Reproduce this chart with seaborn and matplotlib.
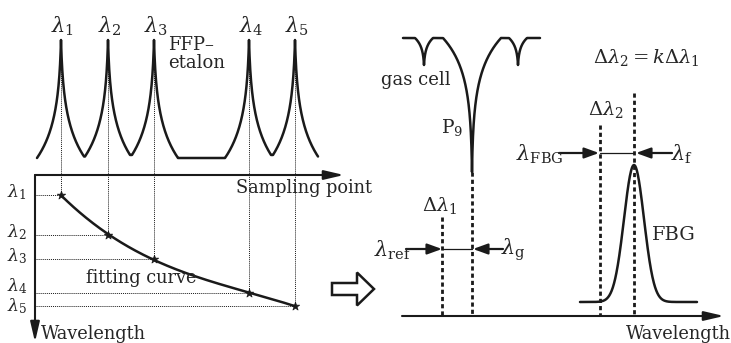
import numpy as np
import seaborn as sns
import matplotlib.pyplot as plt
from matplotlib.patches import FancyArrow

# FFP etalon peaks (left panel, x in px) and fitted wavelength positions
ffp_peaks = [61, 108, 154, 249, 295]
fit_y = [195, 235, 259, 293, 306]
peak_names = ['1', '2', '3', '4', '5']

# gas cell absorption lines (right panel)
gas_lines = [424, 472, 518]
gas_depths = [27, 134, 27]
gas_widths = [9, 29, 9]

# FBG reflection peak
fbg_center = 634
fbg_sigma = 10

# reference / measured wavelengths
lam_ref, lam_g = 442, 472
lam_fbg, lam_f = 600, 634


def cusp(x, centers, depths, widths, g):
    out = np.zeros_like(x)
    for c, d, w in zip(centers, depths, widths):
        f = 1 - np.log1p(np.abs(x - c) / g) / np.log1p(w / g)
        out += d * np.clip(f, 0, None)
    return out


def arrow(ax, start, end, lw=1.6, hl=0.5, hw=0.18, ms=20):
    ax.annotate('', xy=end, xytext=start,
                arrowprops=dict(arrowstyle=f'-|>,head_length={hl},head_width={hw}',
                                lw=lw, color='k', shrinkA=0, shrinkB=0,
                                mutation_scale=ms))


sns.set_theme(style='white')
plt.rcParams['font.family'] = ['DejaVu Serif']
plt.rcParams['mathtext.fontset'] = 'dejavuserif'

fig = plt.figure(figsize=(7.31, 3.43), dpi=100)
ax = fig.add_axes([0, 0, 1, 1])

# ---- left panel: etalon spectrum ----
xs = np.union1d(np.linspace(37, 318, 2000), ffp_peaks)
ys = 158 - cusp(xs, ffp_peaks, [118] * 5, [24] * 5, 1.0)
sns.lineplot(x=xs, y=ys, ax=ax, color='k', lw=1.8, estimator=None, sort=False)

# fitting curve through the sampled points
coef = np.polyfit(ffp_peaks, fit_y, 3)
xf = np.linspace(ffp_peaks[0], ffp_peaks[-1], 300)
sns.lineplot(x=xf, y=np.polyval(coef, xf), ax=ax, color='k', lw=1.8,
             estimator=None, sort=False)
sns.scatterplot(x=ffp_peaks, y=fit_y, ax=ax, marker='*', s=40, color='k',
                edgecolor='k', zorder=5)

label_shift = [-3, -3, -3, -7, 0]
for px, py, name, dy in zip(ffp_peaks, fit_y, peak_names, label_shift):
    ax.plot([px, px], [60, py], color='k', lw=0.7, ls=(0, (1, 1)))
    ax.plot([35, px], [py, py], color='k', lw=0.7, ls=(0, (1, 1)))
    ax.text(px + 2, 26, rf'$\lambda_{name}$', fontsize=15, ha='center', va='center')
    ax.text(17, py + dy, rf'$\lambda_{name}$', fontsize=12.5, ha='center', va='center')

arrow(ax, (35, 175), (344, 175), lw=1.5, hl=0.6, hw=0.14)
arrow(ax, (35, 175), (35, 342), lw=1.5, hl=0.6, hw=0.14)

ax.text(168, 54, 'FFP\u2013\netalon', fontsize=13, ha='left', va='center',
        linespacing=1.0)
ax.text(236, 188, 'Sampling point', fontsize=12.8, ha='left', va='center')
ax.text(86, 278, 'fitting curve', fontsize=12.8, ha='left', va='center')
ax.text(41, 334, 'Wavelength', fontsize=12.8, ha='left', va='center')

# hollow arrow between panels
ax.add_patch(FancyArrow(332, 289, 42, 0, width=12, head_width=33,
                        head_length=17, length_includes_head=True,
                        fill=False, lw=1.8, ec='k'))

# ---- right panel ----
xg = np.union1d(np.linspace(403, 540, 2000), gas_lines)
yg = 38 + cusp(xg, gas_lines, gas_depths, gas_widths, 0.5)
sns.lineplot(x=xg, y=yg, ax=ax, color='k', lw=1.8, estimator=None, sort=False)

xb = np.linspace(580, 697, 400)
yb = 302 - 137 * np.exp(-0.5 * ((xb - fbg_center) / fbg_sigma) ** 2)
sns.lineplot(x=xb, y=yb, ax=ax, color='k', lw=1.8, estimator=None, sort=False)

dash = (0, (1.5, 1.1))
for x0, y0 in [(lam_ref, 217), (lam_g, 172), (lam_fbg, 125), (lam_f, 93)]:
    ax.plot([x0, x0], [y0, 316], color='k', lw=2, ls=dash)

ax.plot([lam_ref, lam_g], [249, 249], color='k', lw=0.9)
ax.plot([lam_fbg, lam_f], [153, 153], color='k', lw=0.9)
arrow(ax, (406, 249), (lam_ref, 249), lw=1.6, hl=0.55, hw=0.2, ms=16)
arrow(ax, (503, 249), (lam_g + 1, 249), lw=1.6, hl=0.55, hw=0.2, ms=16)
arrow(ax, (559, 153), (lam_fbg - 1, 153), lw=1.6, hl=0.55, hw=0.2, ms=16)
arrow(ax, (672, 153), (lam_f + 2, 153), lw=1.6, hl=0.55, hw=0.2, ms=16)

arrow(ax, (402, 316), (724, 316), lw=1.5, hl=0.6, hw=0.14)

ax.text(416, 80, 'gas cell', fontsize=13, ha='center', va='center')
ax.text(441, 128, r'$\mathrm{P}_9$', fontsize=13.5, ha='left', va='center')
ax.text(646, 57, r'$\Delta\lambda_2 = k\Delta\lambda_1$', fontsize=14,
        ha='center', va='center')
ax.text(606, 110, r'$\Delta\lambda_2$', fontsize=14, ha='center', va='center')
ax.text(440, 205, r'$\Delta\lambda_1$', fontsize=14, ha='center', va='center')
ax.text(393, 250, r'$\lambda_{\mathrm{ref}}$', fontsize=15, ha='center', va='center')
ax.text(513, 250, r'$\lambda_{\mathrm{g}}$', fontsize=15, ha='center', va='center')
ax.text(540, 154, r'$\lambda_{\mathrm{FBG}}$', fontsize=15, ha='center', va='center')
ax.text(682, 154, r'$\lambda_{\mathrm{f}}$', fontsize=15, ha='center', va='center')
ax.text(674, 235, 'FBG', fontsize=14, ha='center', va='center')
ax.text(678, 334, 'Wavelength', fontsize=12.8, ha='center', va='center')

ax.set_xlim(0, 731)
ax.set_ylim(343, 0)
ax.axis('off')

fig.savefig('out.png', dpi=100)
